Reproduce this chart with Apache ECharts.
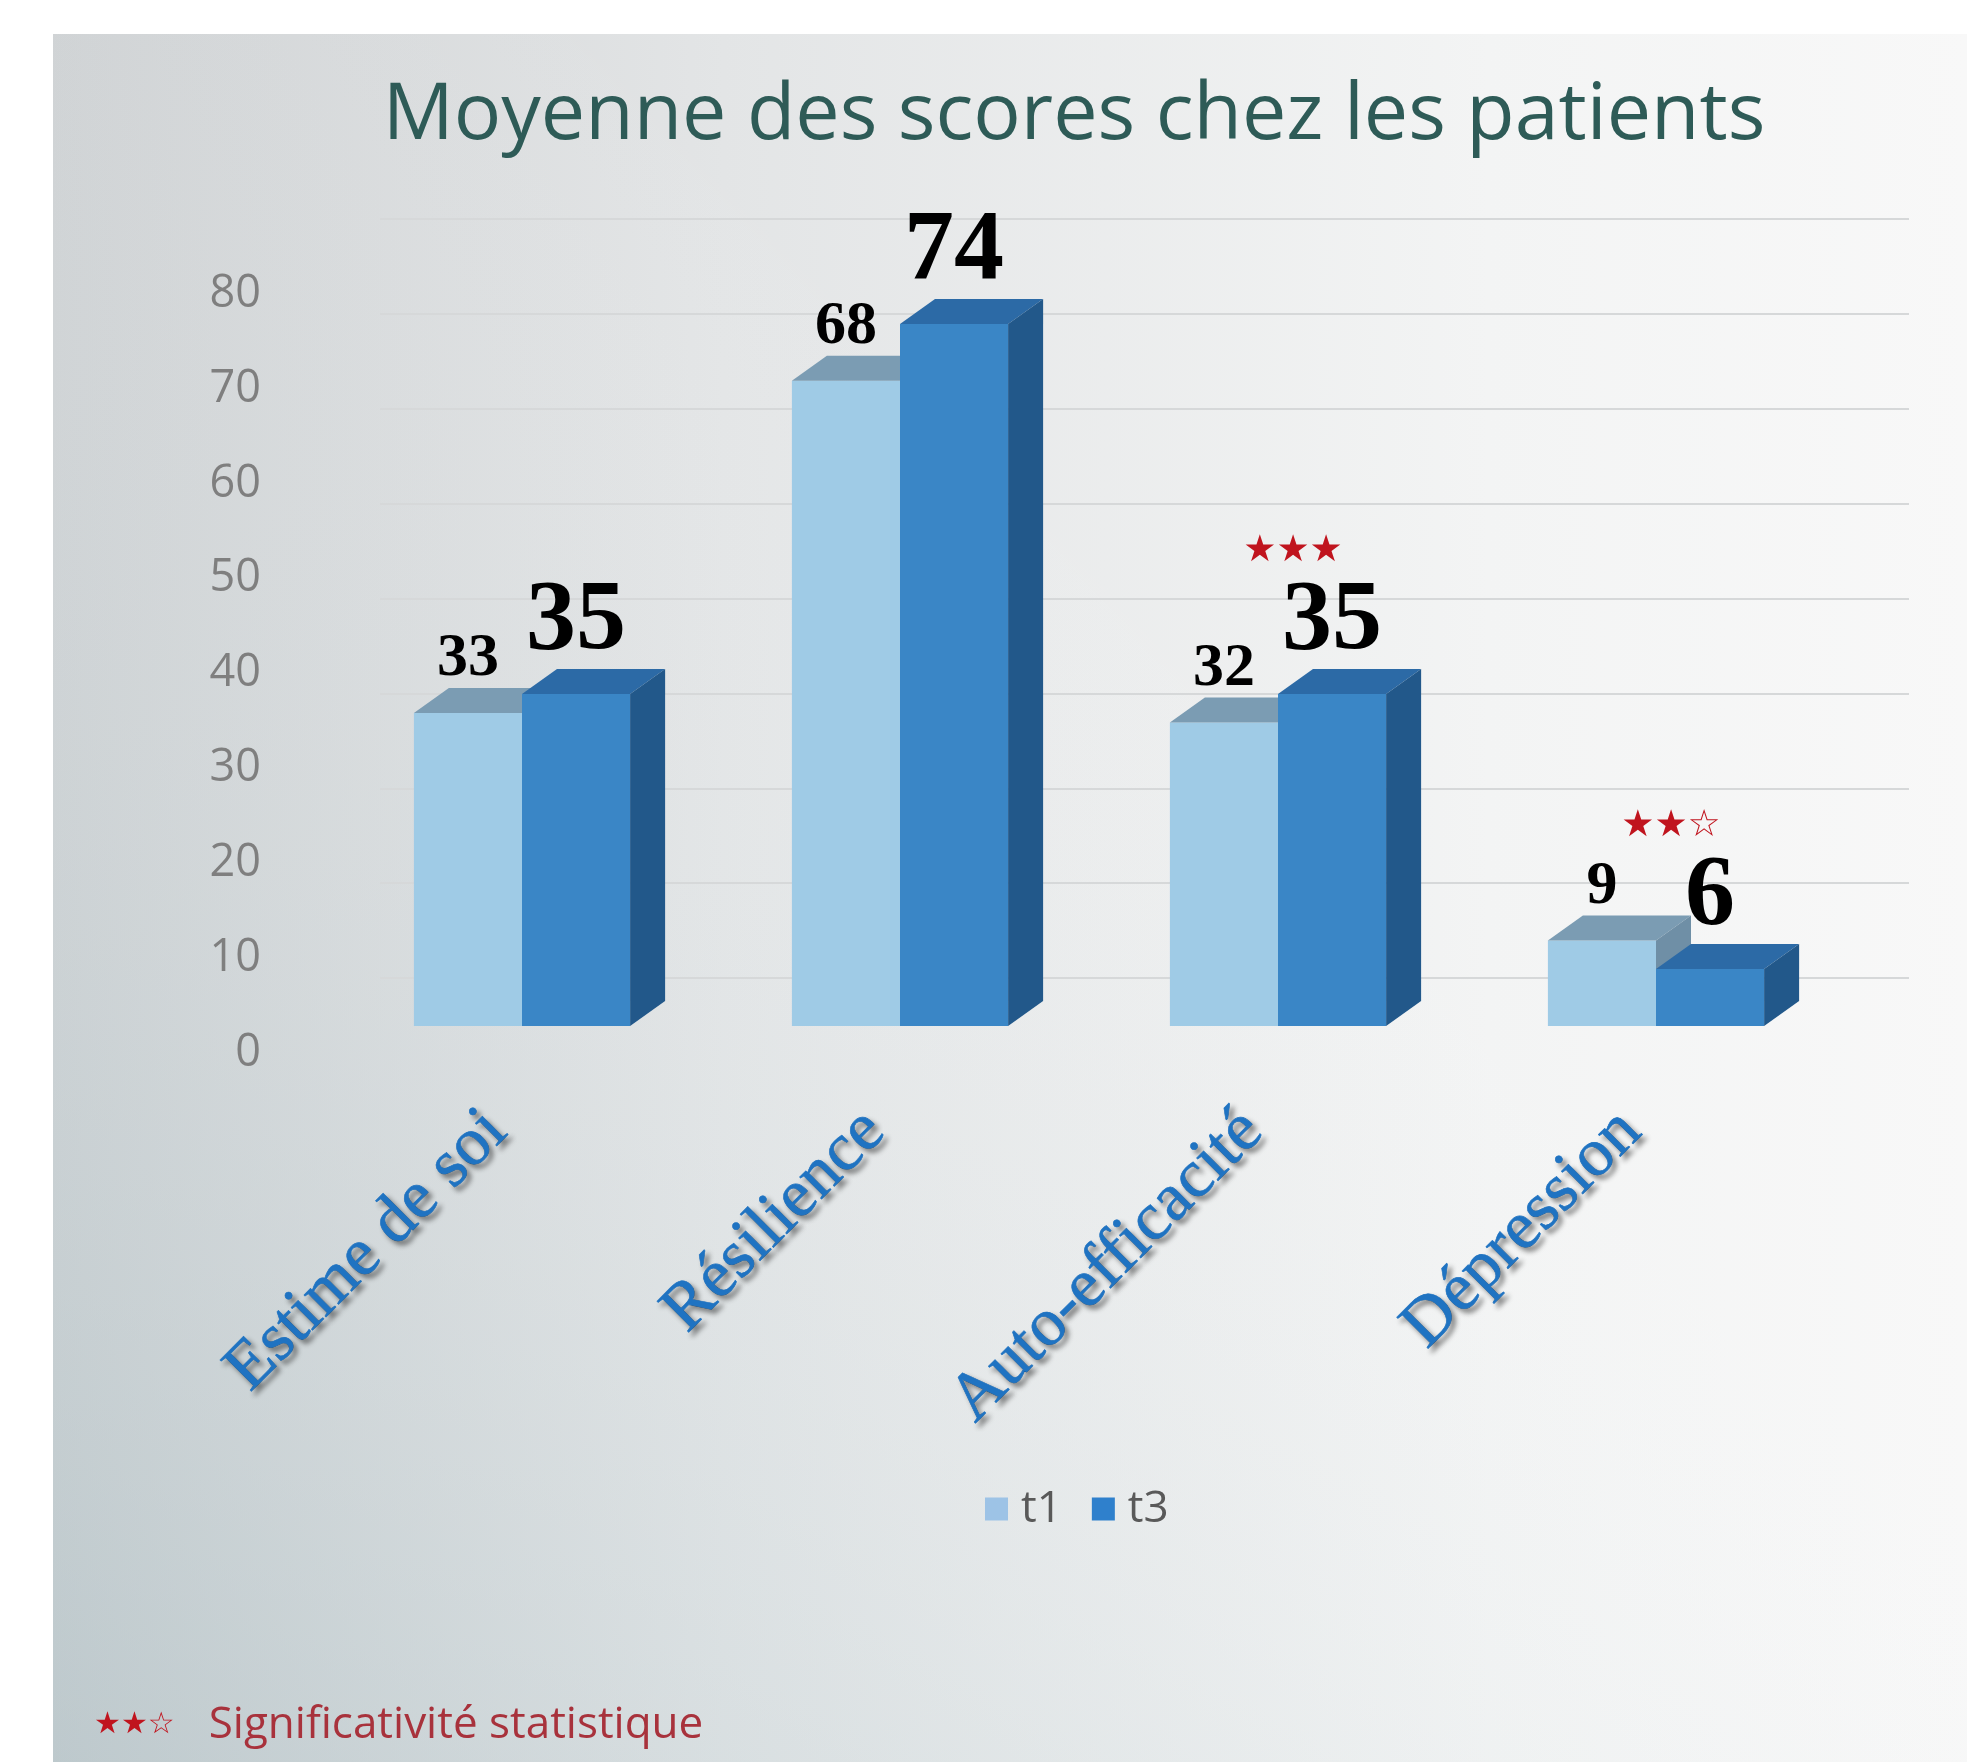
<!DOCTYPE html>
<html>
<head>
<meta charset="utf-8">
<title>Moyenne des scores chez les patients</title>
<script src="https://cdn.jsdelivr.net/npm/echarts@6/dist/echarts.min.js"></script>
<style>
  html, body { margin: 0; padding: 0; background: #ffffff; }
  #chart { width: 1967px; height: 1762px; }
</style>
</head>
<body>
<div id="chart"></div>
<script>
// 数据
const categories = ['Estime de soi', 'Résilience', 'Auto-efficacité', 'Dépression'];
const seriesNames = ['t1', 't3'];
const t1Values = [33, 68, 32, 9];
const t3Values = [35, 74, 35, 6];
const significance = ['', '', '★★★', '★★☆'];
const yMin = 0;
const yMax = 80;
const yStep = 10;

// 3D 外观
const DX = 35;
const DY = -25;
const BAR_RATIO = 0.286;
const looks = [
  { front: '#9fcbe6', top: '#7b9cb3', side: '#6f8fa6', legend: '#9dc3e6', size: 62, gap: 9 },
  { front: '#3a86c6', top: '#2c6aa6', side: '#22588a', legend: '#2f80cc', size: 100, gap: 15 }
];

function makeRenderer(idx) {
  const c = looks[idx];
  return function (params, api) {
    const i = api.value(0);
    const v = api.value(1);
    const base = api.coord([i, 0]);
    const topPt = api.coord([i, v]);
    const w = api.size([1, 0])[0] * BAR_RATIO;
    const x0 = idx === 0 ? base[0] - w : base[0];
    const x1 = x0 + w;
    const y0 = topPt[1];
    const yb = base[1];
    const labelBottom = y0 + DY - c.gap;
    const children = [
      { type: 'rect', shape: { x: x0, y: y0, width: w, height: yb - y0 }, style: { fill: c.front } },
      { type: 'polygon', shape: { points: [[x0, y0], [x1, y0], [x1 + DX, y0 + DY], [x0 + DX, y0 + DY]] }, style: { fill: c.top } },
      { type: 'polygon', shape: { points: [[x1, y0], [x1 + DX, y0 + DY], [x1 + DX, yb + DY], [x1, yb]] }, style: { fill: c.side } },
      {
        type: 'text',
        style: {
          text: String(v),
          x: (x0 + x1) / 2,
          y: labelBottom - 0.32 * c.size,
          align: 'center',
          verticalAlign: 'middle',
          font: 'bold ' + c.size + 'px "Liberation Serif"',
          fill: '#000000'
        }
      }
    ];
    // 显著性星号
    if (idx === 1 && significance[i]) {
      children.push({
        type: 'text',
        style: {
          text: significance[i],
          x: base[0] + 15,
          y: labelBottom - 0.68 * c.size - 35,
          align: 'center',
          verticalAlign: 'middle',
          font: '37px "DejaVu Sans"',
          fill: '#c0141e'
        }
      });
    }
    return { type: 'group', children: children };
  };
}

const chart = echarts.init(document.getElementById('chart'));

const option = {
  backgroundColor: 'transparent',
  animation: false,
  title: {
    text: 'Moyenne des scores chez les patients',
    left: 1069,
    textAlign: 'center',
    top: 72,
    textStyle: {
      color: '#2e5b57',
      fontFamily: 'Open Sans',
      fontWeight: 'normal',
      fontSize: 79
    }
  },
  legend: {
    data: seriesNames,
    left: 980,
    top: 1482,
    icon: 'rect',
    itemWidth: 23,
    itemHeight: 23,
    itemGap: 30,
    textStyle: {
      color: '#595959',
      fontFamily: 'Open Sans',
      fontSize: 44,
      padding: [0, 0, 0, 8]
    }
  },
  graphic: [
    {
      type: 'rect',
      z: -100,
      silent: true,
      shape: { x: 53, y: 34, width: 1914, height: 1728 },
      style: {
        fill: {
          type: 'linear', x: 0, y: 0, x2: 1, y2: 0,
          colorStops: [
            { offset: 0, color: '#cdd0d2' },
            { offset: 0.35, color: '#e3e5e6' },
            { offset: 0.75, color: '#f3f4f4' },
            { offset: 1, color: '#f8f8f8' }
          ]
        }
      }
    },
    {
      type: 'rect',
      z: -99,
      silent: true,
      shape: { x: 53, y: 34, width: 1914, height: 1728 },
      style: {
        fill: {
          type: 'linear', x: 0, y: 1, x2: 0.6, y2: 0.3,
          colorStops: [
            { offset: 0, color: 'rgba(170,192,198,0.45)' },
            { offset: 1, color: 'rgba(255,255,255,0)' }
          ]
        }
      }
    },
    {
      type: 'text',
      left: 94,
      top: 1703,
      style: {
        text: '{s|★★☆}{t|Significativité statistique}',
        rich: {
          s: { fontFamily: 'DejaVu Sans', fontSize: 30, fill: '#c0141e', padding: [0, 34, 0, 0] },
          t: { fontFamily: 'Open Sans', fontSize: 44, fill: '#a8323c' }
        }
      }
    }
  ],
  grid: [
    { left: 333, right: 122, top: 267, height: 759 },
    { left: 380, right: 58, top: 219, height: 759 }
  ],
  xAxis: [
    {
      type: 'category',
      gridIndex: 0,
      data: categories,
      axisLine: { show: false },
      axisTick: { show: false },
      axisLabel: {
        interval: 0,
        rotate: 45,
        margin: 95,
        formatter: function (value) {
          return '{c|' + value + '}';
        },
        rich: {
          c: {
            color: '#1f73c2',
            fontFamily: 'Liberation Serif',
            fontSize: 68,
            textBorderColor: '#1f73c2',
            textBorderWidth: 0.6,
            textShadowColor: 'rgba(0,0,0,0.45)',
            textShadowBlur: 5,
            textShadowOffsetX: 4,
            textShadowOffsetY: 4,
            padding: [0, 18, 36, 0]
          }
        }
      }
    },
    { type: 'value', gridIndex: 1, show: false, min: 0, max: 1 }
  ],
  yAxis: [
    {
      type: 'value',
      gridIndex: 0,
      min: yMin,
      max: yMax,
      interval: yStep,
      axisLine: { show: false },
      axisTick: { show: false },
      splitLine: { show: false },
      axisLabel: {
        color: '#7f7f7f',
        fontFamily: 'Open Sans',
        fontSize: 45,
        margin: 72,
        verticalAlign: 'top',
        lineHeight: 54
      }
    },
    {
      type: 'value',
      gridIndex: 1,
      min: yMin,
      max: yMax,
      interval: yStep,
      axisLine: { show: false },
      axisTick: { show: false },
      axisLabel: { show: false },
      splitLine: { lineStyle: { color: '#d6d8d9', width: 2 } }
    }
  ],
  series: [
    {
      name: seriesNames[0],
      type: 'custom',
      xAxisIndex: 0,
      yAxisIndex: 0,
      itemStyle: { color: looks[0].legend },
      renderItem: makeRenderer(0),
      data: t1Values.map((v, i) => [i, v])
    },
    {
      name: seriesNames[1],
      type: 'custom',
      xAxisIndex: 0,
      yAxisIndex: 0,
      itemStyle: { color: looks[1].legend },
      renderItem: makeRenderer(1),
      data: t3Values.map((v, i) => [i, v])
    }
  ]
};

chart.setOption(option);
</script>
</body>
</html>
